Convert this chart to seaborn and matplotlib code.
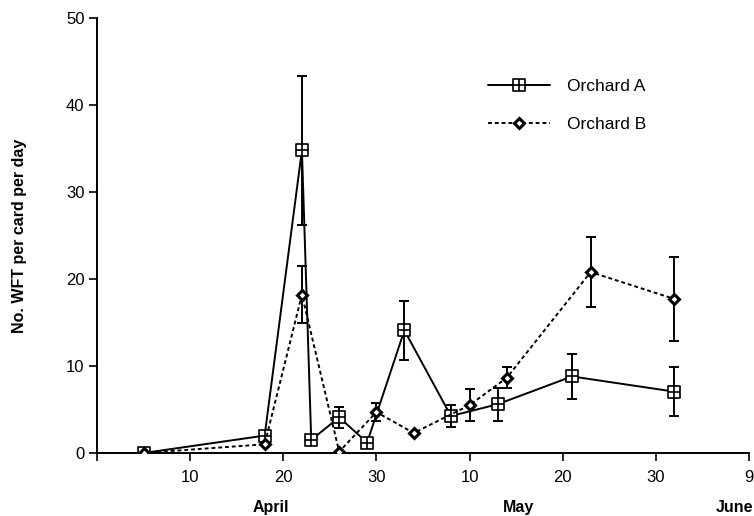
import numpy as np
import pandas as pd
import matplotlib
matplotlib.use("Agg")
import matplotlib.pyplot as plt
from matplotlib.path import Path
import seaborn as sns

# Day numbers: April d -> d, May d -> 30 + d, June d -> 61 + d
days_a = [5, 18, 22, 23, 26, 29, 33, 38, 43, 51, 62]
vals_a = [0.0, 2.0, 34.8, 1.5, 4.1, 1.2, 14.1, 4.25, 5.6, 8.8, 7.05]
err_a = [0.0, 0.0, 8.55, 0.0, 1.2, 0.0, 3.4, 1.25, 1.9, 2.6, 2.85]

days_b = [5, 18, 22, 26, 30, 34, 40, 44, 53, 62]
vals_b = [0.0, 1.0, 18.2, 0.15, 4.7, 2.3, 5.5, 8.65, 20.8, 17.7]
err_b = [0.0, 0.0, 3.3, 0.0, 1.05, 0.0, 1.85, 1.2, 4.05, 4.85]

tick_pos = [0, 10, 20, 30, 40, 50, 60, 70]
tick_labels = ["", "10", "20", "30", "10", "20", "30", "9"]
months = ["April", "May", "June"]
month_pos = [18.7, 45.3, 68.4]
series_names = ["Orchard A", "Orchard B"]

sns.set_theme(style="white")
plt.rcParams['font.family'] = ['Liberation Sans', 'DejaVu Sans']
plt.rcParams['text.color'] = 'black'
plt.rcParams['axes.labelcolor'] = 'black'

fig = plt.figure(figsize=(7.54, 5.16), dpi=100)
ax = fig.add_axes([97/754, 1 - 453/516, (749-97)/754, (453-18)/516])

# square with cross marker
verts = [(-1, -1), (1, -1), (1, 1), (-1, 1), (-1, -1),
         (-1, 0), (1, 0), (0, -1), (0, 1)]
codes = [Path.MOVETO, Path.LINETO, Path.LINETO, Path.LINETO, Path.CLOSEPOLY,
         Path.MOVETO, Path.LINETO, Path.MOVETO, Path.LINETO]
sq_cross = Path(verts, codes)

dfa = pd.DataFrame({"day": days_a, "val": vals_a})
dfb = pd.DataFrame({"day": days_b, "val": vals_b})

# error bars
ea = np.array(err_a)
eb = np.array(err_b)
ax.errorbar(days_a, vals_a, yerr=np.where(ea > 0, ea, np.nan), fmt="none",
            ecolor="black", elinewidth=1.4, capsize=3.5, capthick=1.4, zorder=2)
ax.errorbar(days_b, vals_b, yerr=np.where(eb > 0, eb, np.nan), fmt="none",
            ecolor="black", elinewidth=1.4, capsize=3.5, capthick=1.4, zorder=2)

sns.lineplot(data=dfa, x="day", y="val", ax=ax, color="black", linewidth=1.4,
             marker=sq_cross, markersize=9, markerfacecolor="white",
             markeredgecolor="black", markeredgewidth=1.2,
             label=series_names[0], zorder=3)
sns.lineplot(data=dfb, x="day", y="val", ax=ax, color="black", linewidth=1.4,
             linestyle=(0, (2, 1.5)), marker="D", markersize=5.5,
             markerfacecolor="white", markeredgecolor="black",
             markeredgewidth=2.2, label=series_names[1], zorder=3)

ax.set_xlim(0, 70)
ax.set_ylim(0, 50)
ax.set_xticks(tick_pos)
ax.set_xticklabels(tick_labels, fontsize=12)
ax.set_yticks([0, 10, 20, 30, 40, 50])
ax.set_yticklabels(["0", "10", "20", "30", "40", "50"], fontsize=12)
ax.tick_params(axis="both", direction="out", length=6, width=1.2, colors="black",
               labelcolor="black", bottom=True, left=True)
ax.tick_params(axis="x", pad=6)
ax.tick_params(axis="y", pad=3)
for s in ["top", "right"]:
    ax.spines[s].set_visible(False)
for s in ["left", "bottom"]:
    ax.spines[s].set_color("black")
    ax.spines[s].set_linewidth(1.4)

ax.set_xlabel("")
ax.set_ylabel("No. WFT per card per day", fontsize=11.5, fontweight="bold",
              labelpad=28, color="black")

for m, p in zip(months, month_pos):
    ax.text(p, -0.125, m, transform=ax.get_xaxis_transform(), ha="center",
            va="center", fontsize=11.5, fontweight="bold", color="black")

leg = ax.legend(loc="upper left", bbox_to_anchor=(0.575, 0.897), frameon=False,
                fontsize=12.5, handlelength=3.6, labelspacing=1.35, handletextpad=1.0)

fig.savefig("out.png", dpi=100)
